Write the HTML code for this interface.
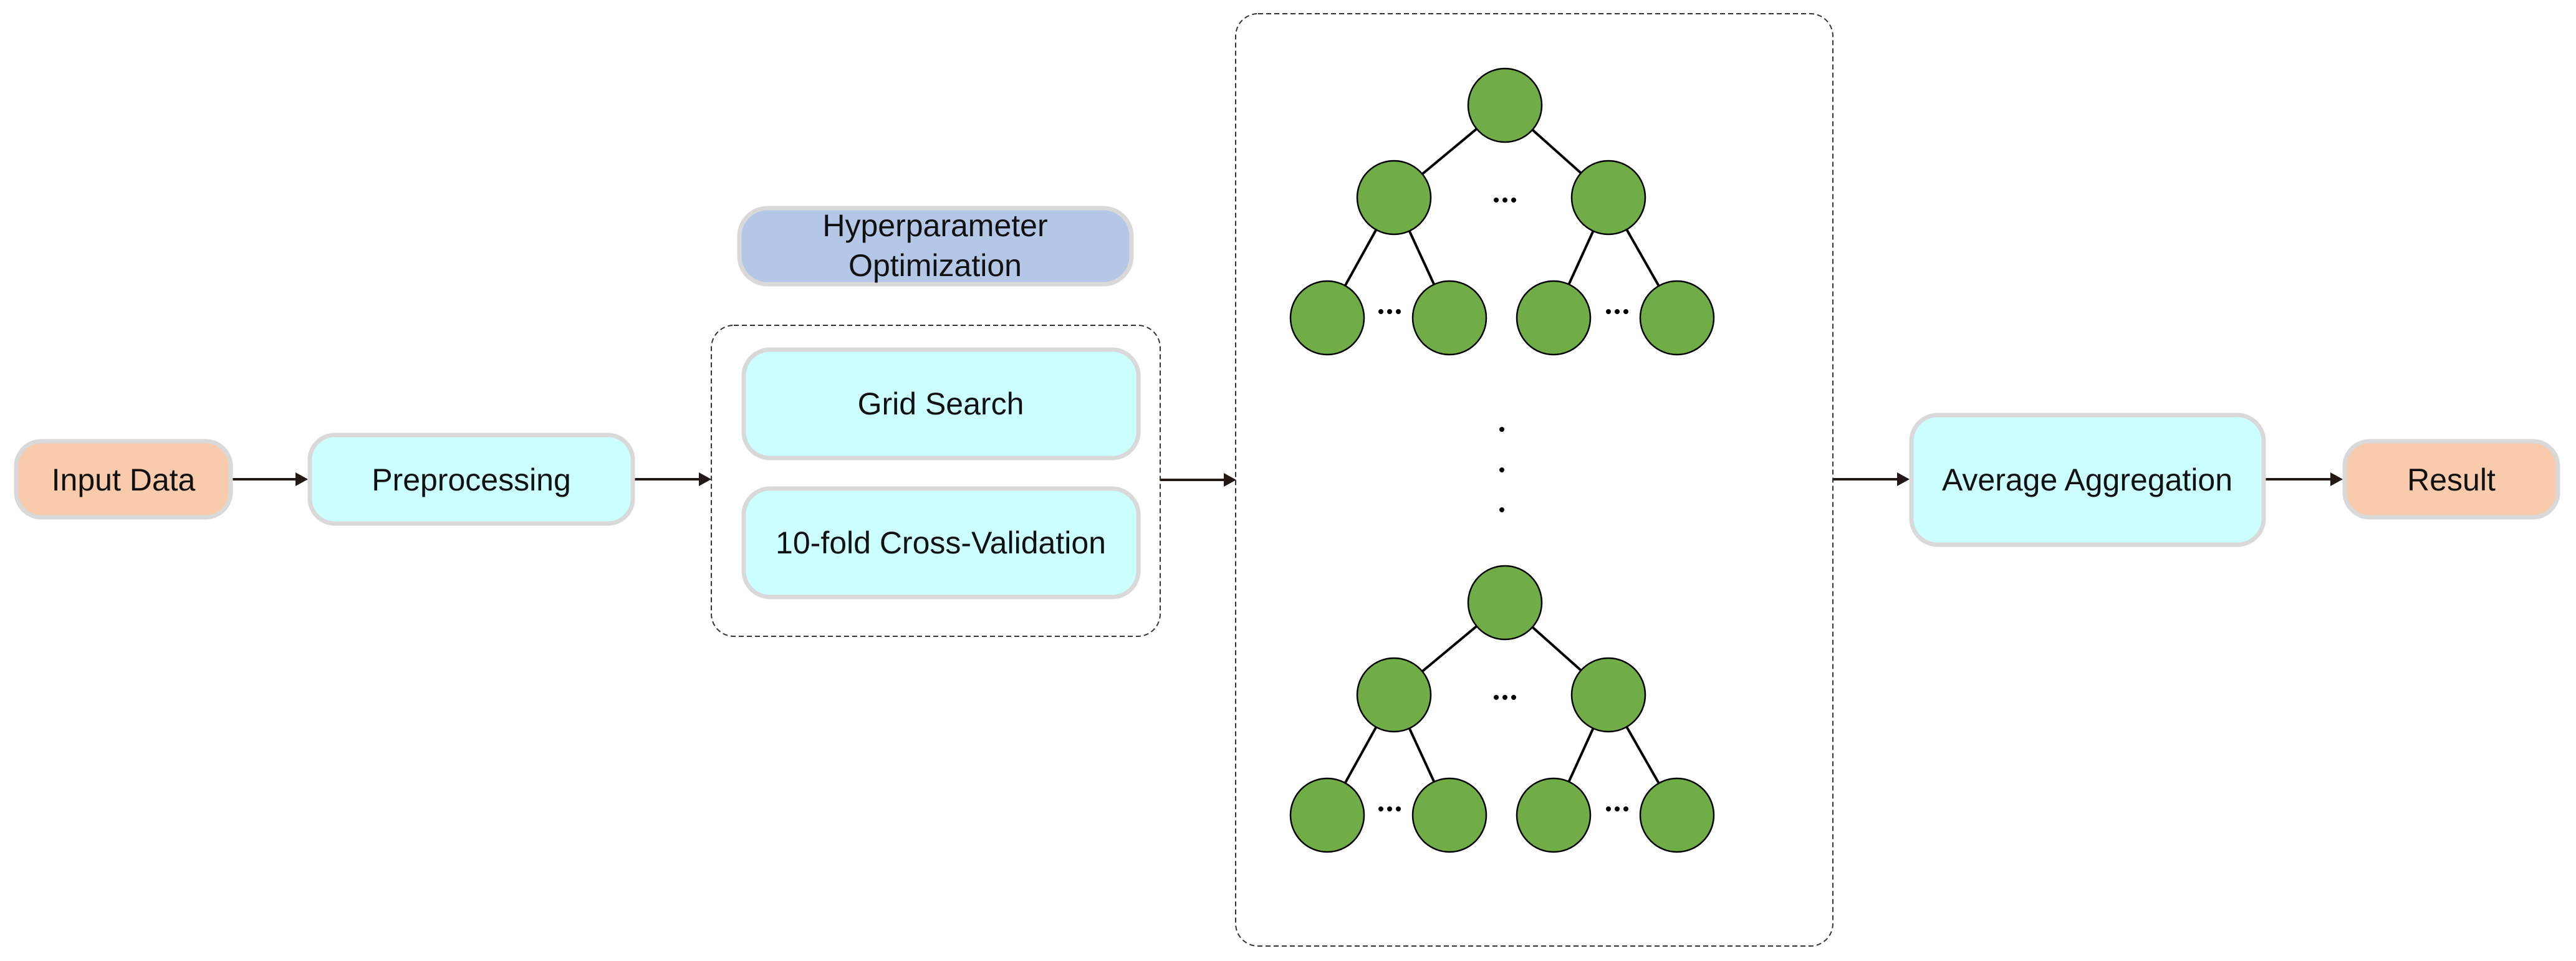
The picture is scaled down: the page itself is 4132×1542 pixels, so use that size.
<!DOCTYPE html>
<html><head><meta charset="utf-8"><style>html,body{margin:0;padding:0;background:#fff}svg{display:block}</style></head>
<body>
<svg width="4132" height="1542" viewBox="0 0 4132 1542" xmlns="http://www.w3.org/2000/svg" font-family="Liberation Sans, Arial, sans-serif">
<defs>
<marker id="ah" markerWidth="10" markerHeight="10" refX="9" refY="5" orient="auto" markerUnits="userSpaceOnUse" viewBox="0 0 10 10">
</marker>
<g id="tree" stroke="#000" stroke-width="4">
 <line x1="2414" y1="169" x2="2236" y2="317"/>
 <line x1="2414" y1="169" x2="2580" y2="317"/>
 <line x1="2236" y1="317" x2="2129" y2="510"/>
 <line x1="2236" y1="317" x2="2325" y2="510"/>
 <line x1="2580" y1="317" x2="2492" y2="510"/>
 <line x1="2580" y1="317" x2="2690" y2="510"/>
 <g fill="#70ad47" stroke-width="2.5">
  <circle cx="2414" cy="169" r="59"/>
  <circle cx="2236" cy="317" r="59"/>
  <circle cx="2580" cy="317" r="59"/>
  <circle cx="2129" cy="510" r="59"/>
  <circle cx="2325" cy="510" r="59"/>
  <circle cx="2492" cy="510" r="59"/>
  <circle cx="2690" cy="510" r="59"/>
 </g>
 <g fill="#000" stroke="none">
  <circle cx="2400" cy="321" r="4"/><circle cx="2414" cy="321" r="4"/><circle cx="2428" cy="321" r="4"/>
  <circle cx="2215" cy="500" r="4"/><circle cx="2229" cy="500" r="4"/><circle cx="2243" cy="500" r="4"/>
  <circle cx="2580" cy="500" r="4"/><circle cx="2594" cy="500" r="4"/><circle cx="2608" cy="500" r="4"/>
 </g>
</g>
</defs>

<!-- arrows -->
<g stroke="#231815" stroke-width="4">
 <line x1="373" y1="769" x2="478" y2="769"/>
 <line x1="1018" y1="769" x2="1125" y2="769"/>
 <line x1="1861" y1="770" x2="1967" y2="770"/>
 <line x1="2941" y1="769" x2="3047" y2="769"/>
 <line x1="3634" y1="769" x2="3742" y2="769"/>
</g>
<g fill="#231815">
 <polygon points="494,769 474,758 474,780"/>
 <polygon points="1141,769 1121,758 1121,780"/>
 <polygon points="1983,770 1963,759 1963,781"/>
 <polygon points="3063,769 3043,758 3043,780"/>
 <polygon points="3758,769 3738,758 3738,780"/>
</g>

<!-- dashed containers -->
<rect x="1141" y="522" width="720" height="499" rx="36" fill="none" stroke="#333" stroke-width="2" stroke-dasharray="8,5"/>
<rect x="1982" y="22" width="958" height="1496" rx="36" fill="none" stroke="#333" stroke-width="2" stroke-dasharray="8,5"/>

<!-- boxes -->
<g stroke="#d9d9d9" stroke-width="7">
 <rect x="26" y="708" width="344" height="122" rx="40" fill="#f8cbad"/>
 <rect x="497" y="698" width="518" height="142" rx="40" fill="#ccffff"/>
 <rect x="1186" y="334" width="629" height="122" rx="45" fill="#b4c7e7"/>
 <rect x="1193" y="561" width="633" height="174" rx="42" fill="#ccffff"/>
 <rect x="1193" y="784" width="633" height="174" rx="42" fill="#ccffff"/>
 <rect x="3066" y="666" width="565" height="208" rx="42" fill="#ccffff"/>
 <rect x="3761" y="708" width="342" height="122" rx="40" fill="#f8cbad"/>
</g>

<g font-size="50" fill="#111" text-anchor="middle">
 <text x="198" y="787">Input Data</text>
 <text x="756" y="787">Preprocessing</text>
 <text x="1500" y="379">Hyperparameter</text>
 <text x="1500" y="443">Optimization</text>
 <text x="1509" y="665">Grid Search</text>
 <text x="1509" y="888">10-fold Cross-Validation</text>
 <text x="3348" y="787">Average Aggregation</text>
 <text x="3932" y="787">Result</text>
</g>

<!-- trees -->
<use href="#tree"/>
<use href="#tree" transform="translate(0,798)"/>

<g fill="#000">
 <circle cx="2409" cy="689" r="4"/>
 <circle cx="2409" cy="754" r="4"/>
 <circle cx="2409" cy="818" r="4"/>
</g>
</svg>
</body></html>
